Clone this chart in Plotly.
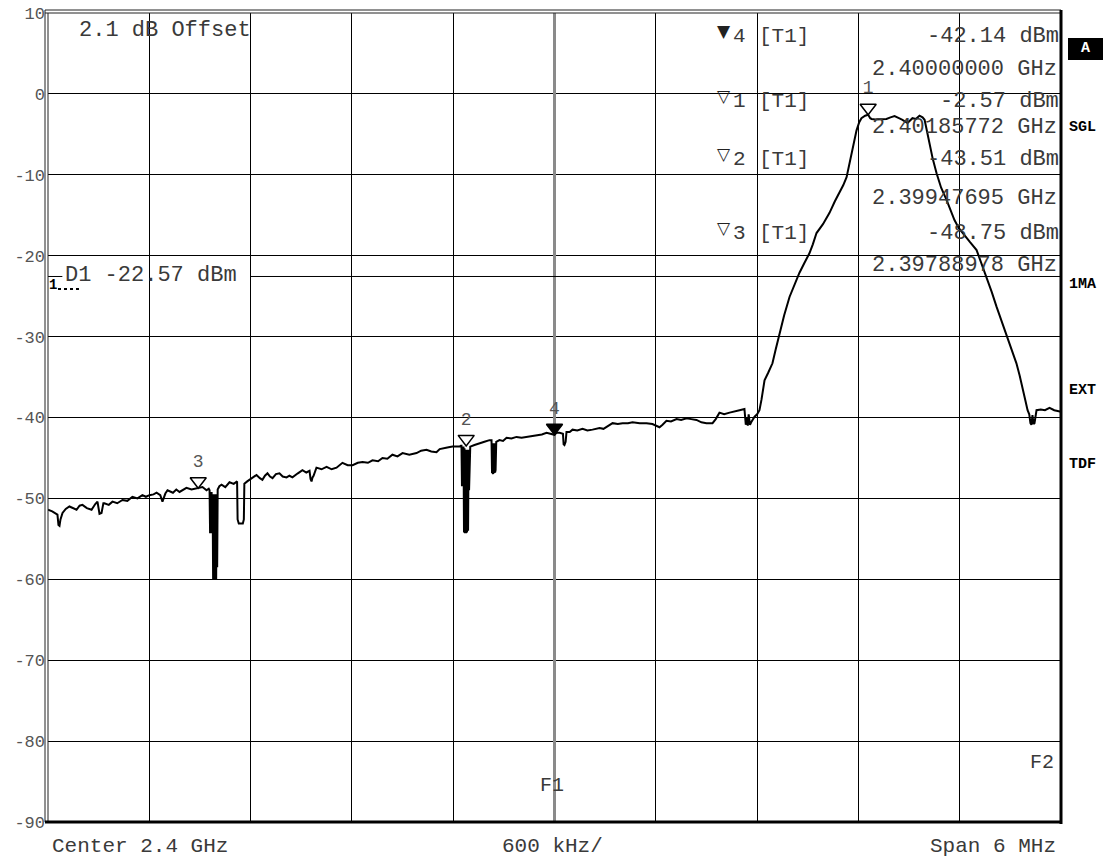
import plotly.graph_objects as go

# ---------------- data ----------------
CENTER_GHZ = 2.4
SPAN_MHZ = 6.0

freq_offset_mhz = [
    -3.000, -2.975, -2.944, -2.938, -2.932, -2.926, -2.914, -2.895, -2.873, -2.855,
    -2.831, -2.813, -2.796, -2.770, -2.742, -2.720, -2.707, -2.695, -2.683, -2.672,
    -2.666, -2.640, -2.618, -2.590, -2.559, -2.530, -2.500, -2.470, -2.441, -2.420,
    -2.399, -2.375, -2.357, -2.335, -2.322, -2.305, -2.292, -2.260, -2.240, -2.221,
    -2.200, -2.180, -2.150, -2.110, -2.085, -2.061, -2.048,
    -2.043, -2.040, -2.037, -2.034, -2.031, -2.028, -2.025, -2.022, -2.019, -2.016,
    -2.013, -2.010, -2.007, -2.004, -2.001, -1.998, -1.995,
    -1.985, -1.972, -1.950, -1.925, -1.900, -1.880, -1.877, -1.870, -1.846, -1.840, -1.837,
    -1.820, -1.806, -1.785, -1.765, -1.745, -1.730, -1.715, -1.700, -1.685, -1.670,
    -1.650, -1.629, -1.610, -1.587, -1.570, -1.552, -1.520, -1.493, -1.470, -1.451,
    -1.445, -1.439, -1.433, -1.427, -1.410, -1.380, -1.350, -1.320, -1.291, -1.270,
    -1.256, -1.225, -1.196, -1.165, -1.137, -1.105, -1.078, -1.045, -1.019, -0.990,
    -0.960, -0.930, -0.900, -0.860, -0.817, -0.790, -0.758, -0.730, -0.699, -0.680,
    -0.663, -0.635, -0.604, -0.580, -0.563, -0.555,
    -0.551, -0.548, -0.545, -0.542, -0.539, -0.536, -0.533, -0.530, -0.527, -0.524,
    -0.521, -0.518, -0.515, -0.512, -0.509, -0.506, -0.503, -0.499,
    -0.474, -0.444, -0.415, -0.385, -0.373, -0.370, -0.367, -0.364, -0.361, -0.358,
    -0.355, -0.352, -0.349, -0.345,
    -0.326, -0.305, -0.284, -0.255, -0.225, -0.195, -0.166, -0.135, -0.107, -0.075,
    -0.047, -0.020, 0.000, 0.012, 0.030, 0.050, 0.054, 0.059, 0.066, 0.071,
    0.090, 0.107, 0.135, 0.166, 0.195, 0.225, 0.245, 0.267, 0.290, 0.308,
    0.325, 0.344, 0.375, 0.403, 0.435, 0.462, 0.505, 0.545, 0.580, 0.604,
    0.622, 0.640, 0.663, 0.690, 0.723, 0.750, 0.782, 0.810, 0.841, 0.870,
    0.900, 0.936, 0.955, 0.977, 1.005, 1.037, 1.065, 1.096, 1.125, 1.133,
    1.139, 1.145, 1.150, 1.158, 1.165, 1.185, 1.200, 1.214, 1.226, 1.244,
    1.265, 1.291, 1.310, 1.333, 1.360, 1.392, 1.420, 1.451, 1.480, 1.510,
    1.530, 1.552, 1.590, 1.629, 1.660, 1.688, 1.710, 1.730, 1.745, 1.759,
    1.775, 1.789, 1.805, 1.818, 1.840, 1.858, 1.870, 1.878, 1.900, 1.930,
    1.966, 1.990, 2.014, 2.040, 2.061, 2.091, 2.105, 2.120, 2.140, 2.162,
    2.180, 2.192, 2.205, 2.221, 2.240, 2.263, 2.290, 2.322, 2.345, 2.369,
    2.395, 2.417, 2.460, 2.500, 2.530, 2.559, 2.590, 2.618, 2.650, 2.677,
    2.705, 2.736, 2.755, 2.772, 2.790, 2.802, 2.812, 2.819, 2.825, 2.831,
    2.837, 2.843, 2.855, 2.880, 2.905, 2.932, 2.960, 2.980, 3.000,
]

level_dbm = [
    -51.4, -51.6, -52.0, -53.3, -53.4, -52.6, -51.8, -51.3, -51.0, -51.2,
    -51.4, -50.9, -50.8, -51.2, -51.4, -50.7, -50.4, -51.9, -51.8, -50.6,
    -50.6, -50.8, -50.4, -50.6, -50.2, -50.3, -49.8, -50.0, -49.6, -49.8,
    -49.6, -49.5, -49.3, -49.6, -50.4, -49.4, -49.0, -49.3, -48.9, -49.2,
    -48.9, -48.7, -48.9, -48.75, -48.6, -49.0, -48.8,
    -49.0, -54.3, -49.2, -54.3, -49.2, -54.3, -49.5, -60.0, -49.5, -60.1,
    -50.0, -60.1, -49.5, -60.0, -49.5, -58.5, -48.9,
    -48.5, -48.3, -48.6, -48.0, -48.2, -47.9, -52.6, -53.1, -53.1, -52.6, -48.2,
    -47.9, -47.7, -47.4, -47.1, -47.5, -47.7, -47.2, -46.9, -47.3, -47.5,
    -47.0, -46.9, -47.3, -47.4, -47.2, -47.4, -46.9, -46.5, -46.8, -46.6,
    -47.6, -47.9, -47.4, -47.2, -46.2, -46.4, -46.1, -46.4, -46.2, -45.8,
    -45.6, -45.9, -45.9, -45.6, -45.5, -45.6, -45.3, -45.4, -45.0, -45.1,
    -44.6, -44.8, -44.4, -44.6, -44.4, -44.1, -44.0, -44.2, -44.3, -43.9,
    -43.8, -43.7, -43.6, -43.6, -43.6, -43.5,
    -43.5, -48.5, -43.6, -48.5, -43.6, -54.2, -43.8, -54.3, -44.0, -54.3,
    -44.0, -54.2, -44.0, -54.0, -44.0, -49.0, -44.0, -43.6,
    -43.4, -43.15, -43.0, -42.8, -42.8, -46.9, -43.2, -47.0, -43.2, -46.9,
    -43.2, -46.8, -46.5, -43.0,
    -42.8, -42.9, -42.5, -42.6, -42.4, -42.5, -42.4, -42.3, -42.2, -42.1,
    -41.9, -42.0, -42.14, -41.9, -41.9, -42.0, -43.3, -43.4, -43.0, -41.8,
    -41.8, -41.5, -41.6, -41.4, -41.6, -41.5, -41.4, -41.3, -41.4, -41.2,
    -41.0, -40.7, -40.8, -40.7, -40.7, -40.6, -40.7, -40.7, -40.8, -41.0,
    -41.2, -40.9, -40.4, -40.5, -40.2, -40.3, -40.1, -40.2, -40.3, -40.6,
    -40.7, -40.7, -40.2, -39.4, -39.6, -39.4, -39.3, -39.1, -38.95, -40.9,
    -40.0, -41.0, -39.6, -40.9, -40.6, -39.9, -39.6, -39.1, -37.8, -35.4,
    -34.5, -33.3, -31.6, -29.6, -27.4, -25.1, -23.6, -22.1, -20.9, -19.7,
    -18.6, -17.2, -16.1, -14.7, -13.3, -12.25, -11.3, -10.3, -8.8, -7.3,
    -5.9, -4.5, -3.5, -3.0, -2.7, -2.57, -3.0, -3.1, -3.15, -3.1,
    -3.1, -2.9, -2.75, -3.0, -3.2, -3.6, -3.3, -3.0, -3.1, -2.7,
    -2.9, -3.2, -4.5, -6.1, -8.0, -9.8, -11.6, -13.1, -14.4, -15.6,
    -16.6, -17.2, -18.3, -19.3, -21.0, -22.6, -24.5, -26.3, -28.2, -30.0,
    -31.5, -33.3, -34.8, -36.2, -38.0, -39.1, -39.6, -40.7, -40.9, -39.7,
    -40.8, -40.7, -39.1, -39.0, -39.1, -38.8, -39.1, -39.2, -39.3,
]

marker_ids = ["4", "1", "2", "3"]
marker_filled = [True, False, False, False]
marker_freq_ghz = [2.40000000, 2.40185772, 2.39947695, 2.39788978]
marker_level_dbm = [-42.14, -2.57, -43.51, -48.75]
marker_trace = ["[T1]", "[T1]", "[T1]", "[T1]"]

display_line_dbm = -22.57
ref_offset_db = 2.1
y_ticks = [10, 0, -10, -20, -30, -40, -50, -60, -70, -80, -90]
x_grid_mhz = [-3.0, -2.4, -1.8, -1.2, -0.6, 0.0, 0.6, 1.2, 1.8, 2.4, 3.0]
side_labels = ["SGL", "1MA", "EXT", "TDF"]

# ---------------- layout helpers (pixel -> paper) ----------------
W, H = 1113, 860
L, R, T, B = 48, 1061, 13, 822


def px(x):
    return (x - L) / (R - L)


def py(y):
    return (B - y) / (B - T)


MONO = "Liberation Mono"
TXT = "#3a3a3a"

fig = go.Figure()

# trace
fig.add_trace(go.Scatter(
    x=freq_offset_mhz, y=level_dbm, mode="lines",
    line=dict(color="black", width=2), hoverinfo="skip", showlegend=False,
))

# markers on trace (tip of triangle at the measured point)
tri_size = 14
tri_shift_db = (tri_size / 2) / ((B - T) / 100.0)
mx = [(f - CENTER_GHZ) * 1000.0 for f in marker_freq_ghz]
my = [v + tri_shift_db for v in marker_level_dbm]
fig.add_trace(go.Scatter(
    x=mx, y=my, mode="markers+text",
    text=marker_ids, textposition="top center",
    textfont=dict(family=MONO, size=18, color="#555555"),
    marker=dict(symbol="triangle-down", size=tri_size,
                color=["black" if f else "white" for f in marker_filled],
                line=dict(color="black", width=1.5)),
    hoverinfo="skip", showlegend=False, cliponaxis=False,
))

shapes = []
# F1 line (center)
shapes.append(dict(type="line", xref="x", yref="y", x0=0, x1=0, y0=-90, y1=10,
                   line=dict(color="#8a8a8a", width=3), layer="between"))
# display line D1 (broken where its label sits)
shapes.append(dict(type="line", xref="x", yref="y", x0=-3, x1=-2.915,
                   y0=display_line_dbm, y1=display_line_dbm,
                   line=dict(color="black", width=1), layer="between"))
shapes.append(dict(type="line", xref="x", yref="y", x0=-1.80, x1=3,
                   y0=display_line_dbm, y1=display_line_dbm,
                   line=dict(color="black", width=1), layer="between"))
# dotted "1" marker of the display line
shapes.append(dict(type="line", xref="paper", yref="paper", x0=px(58), x1=px(79),
                   y0=py(289), y1=py(289), line=dict(color="black", width=2, dash="dot")))
# frame
shapes.append(dict(type="line", xref="paper", yref="paper", x0=0, x1=0, y0=0, y1=1,
                   line=dict(color="#222", width=1)))
shapes.append(dict(type="line", xref="paper", yref="paper", x0=px(45), x1=px(45), y0=0, y1=py(10),
                   line=dict(color="#222", width=1)))
shapes.append(dict(type="line", xref="paper", yref="paper", x0=px(45), x1=1, y0=1, y1=1,
                   line=dict(color="#222", width=1)))
shapes.append(dict(type="line", xref="paper", yref="paper", x0=px(45), x1=1, y0=py(10), y1=py(10),
                   line=dict(color="#222", width=1)))
shapes.append(dict(type="line", xref="paper", yref="paper", x0=1, x1=1, y0=py(824), y1=py(10),
                   line=dict(color="black", width=3)))
shapes.append(dict(type="line", xref="paper", yref="paper", x0=px(45), x1=px(1062), y0=0, y1=0,
                   line=dict(color="black", width=3)))
# "A" box
shapes.append(dict(type="rect", xref="paper", yref="paper", x0=px(1068), x1=px(1103),
                   y0=py(60), y1=py(38), fillcolor="black", line=dict(width=0)))

ann = []


def text(x, y, s, size=22, anchor="left", color=TXT, bold=False, family=MONO, yanchor="middle"):
    ann.append(dict(xref="paper", yref="paper", x=px(x), y=py(y), text=s,
                    showarrow=False, xanchor=anchor, yanchor=yanchor,
                    font=dict(family=family, size=size, color=color,
                              weight="bold" if bold else "normal")))


text(77, 31, f"{ref_offset_db:.1f} dB Offset")

# marker table
row_level_y = [35, 100, 158, 232]
row_freq_y = [70, 128, 198, 265]
for i, mid in enumerate(marker_ids):
    tri = "▼" if marker_filled[i] else "▽"
    text(724, row_level_y[i] - 4, tri, size=17, anchor="center", color="#222", family="DejaVu Sans")
    text(731, row_level_y[i] + 1, mid, size=21)
    text(757, row_level_y[i] + 1, marker_trace[i], size=21)
    text(1061, row_level_y[i] + 1, f"{marker_level_dbm[i]:.2f} dBm", size=22, anchor="right")
    text(1059, row_freq_y[i], f"{marker_freq_ghz[i]:.8f} GHz", size=22, anchor="right")

# display line label
text(63, 275, f"D1 {display_line_dbm:.2f} dBm", size=22)
text(47, 285, "1", size=14, bold=True, color="black")

# F1 / F2
text(552, 785, "F1", size=20, anchor="center")
text(1056, 762, "F2", size=20, anchor="right")

# bottom labels
text(50, 846, f"Center {CENTER_GHZ:g} GHz", size=21)
text(552, 846, f"{SPAN_MHZ / 10 * 1000:g} kHz/", size=21, anchor="center")
text(1058, 846, f"Span {SPAN_MHZ:g} MHz", size=21, anchor="right")

# right side labels
text(1085.5, 49, "A", size=15, anchor="center", color="white", bold=True)
for lab, yy in zip(side_labels, [127, 284, 390, 464]):
    text(1067, yy, lab, size=15, bold=True, color="black")

fig.update_layout(
    width=W, height=H,
    margin=dict(l=L, r=W - R, t=T, b=H - B, pad=0, autoexpand=False),
    paper_bgcolor="white", plot_bgcolor="white",
    showlegend=False,
    shapes=shapes, annotations=ann,
    xaxis=dict(range=[-3, 3], tickvals=x_grid_mhz, showticklabels=False, ticks="",
               showgrid=True, gridcolor="black", gridwidth=1, zeroline=False,
               showline=False, fixedrange=True, automargin=False),
    yaxis=dict(range=[-90, 10], tickvals=y_ticks, ticktext=[str(v) for v in y_ticks],
               ticks="", showgrid=True, gridcolor="black", gridwidth=1, zeroline=False,
               showline=False, ticklabelstandoff=2, automargin=False,
               tickfont=dict(family=MONO, size=17, color="#555555"), fixedrange=True),
)

fig.write_html(
    "out.html",
    config={"displayModeBar": False},
    post_script="document.body.style.margin='0';document.body.style.overflow='hidden';",
)
